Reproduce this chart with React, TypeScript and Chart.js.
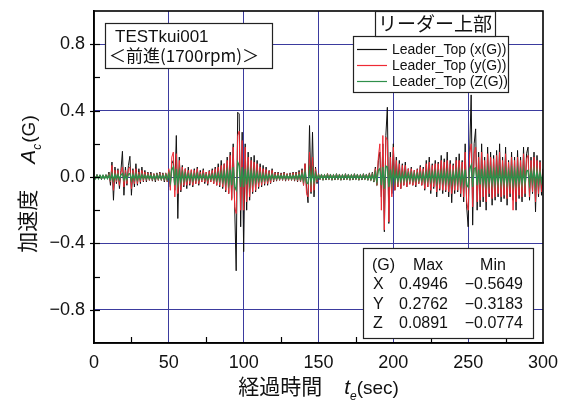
import React, { useEffect, useRef } from "react";
import { Chart, registerables } from "chart.js";

Chart.register(...registerables);

// sample interval of the acceleration record (sec)
const TIME_STEP_SEC = 1;

// Leader_Top x(G) — one value per second, t = 0 … 300
const ACC_X = [
  0.01, -0.012, 0.015, -0.01, 0.012, -0.015, 0.01, -0.012, 0.014, -0.01,
  0.03, -0.05, 0.09, -0.14, 0.06, -0.04, 0.05, -0.07, 0.04, 0.155,
  -0.11, 0.06, -0.05, 0.07, 0.125, -0.11, 0.05, -0.06, 0.08, -0.05,
  0.05, -0.04, 0.06, -0.03, 0.04, -0.03, 0.03, -0.02, 0.03, -0.025,
  0.02, -0.03, 0.025, -0.02, 0.03, -0.02, 0.025, -0.03, 0.02, -0.03,
  0.04, -0.06, 0.08, 0.1, -0.08, 0.25, -0.25, 0.12, -0.09, 0.07,
  -0.06, 0.05, -0.07, 0.06, -0.05, 0.04, -0.06, 0.05, -0.04, 0.06,
  -0.05, 0.04, -0.03, 0.05, -0.04, 0.03, -0.05, 0.04, -0.03, 0.05,
  -0.04, 0.06, -0.05, 0.08, -0.06, 0.1, -0.07, 0.08, -0.09, 0.12,
  -0.1, 0.15, -0.13, 0.2, -0.18, -0.5649, 0.39, 0.38, -0.3, 0.27,
  -0.45, 0.2, -0.2, 0.15, -0.14, 0.12, -0.1, 0.13, -0.09, 0.1,
  -0.07, 0.08, -0.06, 0.07, -0.05, 0.06, -0.05, 0.04, -0.04, 0.05,
  -0.03, 0.03, -0.025, 0.03, -0.02, 0.025, -0.02, 0.03, -0.025, 0.02,
  -0.02, 0.025, -0.02, 0.03, -0.025, 0.03, -0.03, 0.04, -0.03, 0.05,
  -0.05, 0.08, -0.06, -0.155, 0.31, -0.1, 0.27, -0.12, 0.06, -0.04,
  0.02, -0.015, 0.018, -0.02, 0.015, -0.018, 0.02, -0.015, 0.018, -0.02,
  0.015, -0.018, 0.02, -0.015, 0.018, -0.02, 0.015, -0.018, 0.02, -0.015,
  0.018, -0.02, 0.015, -0.018, 0.02, -0.015, 0.018, -0.02, 0.015, -0.018,
  0.02, -0.015, 0.018, -0.02, 0.025, -0.02, 0.03, -0.03, 0.06, -0.05,
  0.1, 0.15, -0.12, 0.2, -0.33, 0.25, 0.42, -0.28, 0.15, -0.1,
  0.2, -0.08, 0.12, -0.06, 0.1, -0.07, 0.08, -0.05, 0.09, -0.06,
  0.05, -0.04, 0.06, -0.05, 0.04, -0.06, 0.05, -0.04, 0.07, -0.05,
  0.06, -0.08, 0.1, -0.06, 0.12, -0.1, 0.08, -0.07, 0.1, -0.12,
  0.09, -0.08, 0.13, -0.1, 0.11, -0.09, 0.15, -0.12, 0.1, -0.155,
  0.08, -0.1, 0.12, -0.09, 0.14, -0.12, 0.1, -0.15, 0.2, -0.18,
  -0.3, 0.15, 0.4946, -0.29, 0.2, 0.29, -0.2, 0.15, -0.18, 0.2,
  -0.15, 0.12, -0.2, 0.18, -0.12, 0.15, -0.17, 0.13, -0.14, 0.16,
  -0.12, 0.2, -0.15, 0.12, -0.13, 0.18, -0.17, 0.1, -0.12, 0.15,
  -0.14, 0.12, -0.2, 0.16, -0.13, 0.12, -0.15, 0.18, -0.12, 0.14,
  0.18, -0.14, 0.12, -0.1, 0.15, -0.21, 0.13, -0.12, 0.1, -0.11,
  0.05,
];

// Leader_Top y(G)
const ACC_Y = [
  0.01, -0.01, 0.012, -0.01, 0.01, -0.012, 0.01, -0.01, 0.012, -0.01,
  0.02, -0.03, 0.07, -0.08, 0.04, -0.03, 0.04, -0.05, 0.03, 0.06,
  -0.06, 0.04, -0.04, 0.05, 0.06, -0.07, 0.04, -0.04, 0.05, -0.04,
  0.03, -0.03, 0.04, -0.025, 0.03, -0.02, 0.025, -0.02, 0.02, -0.02,
  0.02, -0.02, 0.02, -0.02, 0.025, -0.02, 0.02, -0.02, 0.025, -0.03,
  0.05, -0.08, 0.12, 0.15, -0.12, 0.14, -0.1, 0.1, -0.08, 0.06,
  -0.05, 0.05, -0.05, 0.04, -0.04, 0.045, -0.05, 0.04, -0.04, 0.05,
  -0.04, 0.03, -0.03, 0.04, -0.03, 0.03, -0.04, 0.035, -0.03, 0.04,
  -0.04, 0.05, -0.05, 0.06, -0.05, 0.07, -0.06, 0.08, -0.08, 0.1,
  -0.1, 0.13, -0.14, 0.18, -0.18, -0.22, 0.25, 0.2762, -0.2, 0.22,
  -0.2, 0.18, -0.15, 0.12, -0.12, 0.1, -0.09, 0.09, -0.08, 0.08,
  -0.06, 0.06, -0.05, 0.05, -0.04, 0.045, -0.04, 0.035, -0.035, 0.04,
  -0.025, 0.025, -0.02, 0.025, -0.02, 0.02, -0.02, 0.025, -0.02, 0.02,
  -0.02, 0.02, -0.02, 0.025, -0.02, 0.025, -0.025, 0.03, -0.03, 0.04,
  -0.05, 0.08, -0.1, -0.12, 0.15, -0.09, 0.12, -0.08, 0.05, -0.03,
  0.02, -0.015, 0.015, -0.018, 0.015, -0.015, 0.02, -0.015, 0.015, -0.018,
  0.015, -0.015, 0.018, -0.015, 0.015, -0.018, 0.015, -0.015, 0.018, -0.015,
  0.015, -0.018, 0.015, -0.015, 0.018, -0.015, 0.015, -0.018, 0.015, -0.015,
  0.018, -0.015, 0.015, -0.018, 0.02, -0.02, 0.025, -0.025, 0.05, -0.05,
  0.12, 0.2, -0.2, 0.25, -0.3183, 0.24, 0.22, -0.27, 0.12, -0.12,
  0.18, -0.08, 0.1, -0.06, 0.08, -0.07, 0.07, -0.05, 0.07, -0.06,
  0.05, -0.045, 0.05, -0.05, 0.04, -0.05, 0.045, -0.04, 0.06, -0.05,
  0.05, -0.07, 0.08, -0.06, 0.09, -0.08, 0.07, -0.06, 0.08, -0.09,
  0.08, -0.07, 0.1, -0.08, 0.09, -0.08, 0.1, -0.09, 0.08, -0.1,
  0.07, -0.08, 0.1, -0.08, 0.1, -0.1, 0.09, -0.12, 0.15, -0.15,
  -0.2, 0.14, 0.2, -0.18, 0.14, 0.18, -0.15, 0.12, -0.14, 0.15,
  -0.12, 0.1, -0.15, 0.14, -0.1, 0.12, -0.13, 0.11, -0.12, 0.13,
  -0.1, 0.15, -0.12, 0.1, -0.11, 0.14, -0.13, 0.09, -0.1, 0.12,
  -0.2, 0.1, -0.15, 0.12, -0.11, 0.1, -0.12, 0.14, -0.1, 0.11,
  0.13, -0.12, 0.1, -0.09, 0.12, -0.15, 0.1, -0.1, 0.09, -0.09,
  0.04,
];

// Leader_Top Z(G)
const ACC_Z = [
  0.01, -0.01, 0.008, -0.01, 0.01, -0.008, 0.01, -0.01, 0.008, -0.01,
  0.012, -0.015, 0.02, -0.02, 0.015, -0.012, 0.015, -0.015, 0.012, 0.02,
  -0.018, 0.015, -0.015, 0.018, 0.02, -0.02, 0.015, -0.015, 0.018, -0.015,
  0.012, -0.012, 0.015, -0.01, 0.012, -0.01, 0.012, -0.01, 0.01, -0.012,
  0.01, -0.012, 0.012, -0.01, 0.012, -0.012, 0.01, -0.012, 0.015, -0.015,
  0.02, -0.03, 0.045, 0.06, -0.05, 0.05, -0.04, 0.035, -0.03, 0.025,
  -0.02, 0.02, -0.018, 0.015, -0.015, 0.018, -0.02, 0.015, -0.015, 0.018,
  -0.015, 0.012, -0.012, 0.015, -0.012, 0.012, -0.015, 0.012, -0.012, 0.015,
  -0.015, 0.018, -0.018, 0.02, -0.02, 0.025, -0.025, 0.03, -0.03, 0.035,
  -0.04, 0.045, -0.05, 0.06, -0.06, -0.0774, 0.0891, 0.07, -0.06, 0.06,
  -0.06, 0.05, -0.045, 0.04, -0.04, 0.035, -0.03, 0.03, -0.025, 0.025,
  -0.02, 0.02, -0.02, 0.018, -0.018, 0.015, -0.015, 0.015, -0.012, 0.015,
  -0.012, 0.01, -0.01, 0.012, -0.01, 0.01, -0.01, 0.012, -0.01, 0.01,
  -0.01, 0.01, -0.012, 0.01, -0.01, 0.012, -0.012, 0.015, -0.015, 0.02,
  -0.02, 0.03, -0.035, -0.04, 0.045, -0.035, 0.04, -0.03, 0.02, -0.015,
  0.01, -0.01, 0.01, -0.012, 0.01, -0.01, 0.012, -0.01, 0.01, -0.012,
  0.01, -0.01, 0.012, -0.01, 0.01, -0.012, 0.01, -0.01, 0.012, -0.01,
  0.01, -0.012, 0.01, -0.01, 0.012, -0.01, 0.01, -0.012, 0.01, -0.01,
  0.012, -0.01, 0.01, -0.012, 0.012, -0.015, 0.015, -0.018, 0.025, -0.03,
  0.04, 0.05, -0.05, 0.06, -0.07, 0.065, 0.06, -0.06, 0.045, -0.04,
  0.04, -0.03, 0.03, -0.025, 0.025, -0.025, 0.02, -0.02, 0.025, -0.02,
  0.02, -0.018, 0.02, -0.02, 0.018, -0.02, 0.018, -0.018, 0.02, -0.02,
  0.02, -0.025, 0.025, -0.02, 0.03, -0.025, 0.025, -0.02, 0.03, -0.03,
  0.025, -0.025, 0.03, -0.025, 0.03, -0.03, 0.03, -0.03, 0.025, -0.035,
  0.025, -0.03, 0.035, -0.03, 0.035, -0.035, 0.03, -0.04, 0.045, -0.05,
  -0.06, 0.05, 0.07, -0.06, 0.05, 0.055, -0.05, 0.045, -0.045, 0.05,
  -0.04, 0.035, -0.045, 0.045, -0.035, 0.04, -0.04, 0.035, -0.04, 0.04,
  -0.035, 0.045, -0.04, 0.035, -0.035, 0.04, -0.04, 0.03, -0.035, 0.04,
  -0.045, 0.035, -0.04, 0.04, -0.035, 0.035, -0.04, 0.04, -0.035, 0.035,
  0.04, -0.04, 0.035, -0.03, 0.04, -0.045, 0.035, -0.035, 0.03, -0.03,
  0.015,
];

const SERIES_LABELS = ["Leader_Top (x(G))", "Leader_Top (y(G))", "Leader_Top (Z(G))"];
const SERIES_COLORS = ["#111111", "#ee2a34", "#2f8f4a"];
const SERIES_WIDTHS = [1, 1, 1.4];

const X_TICKS = [0, 50, 100, 150, 200, 250, 300];
const X_MINOR_TICKS = [25, 75, 125, 175, 225, 275];
const Y_TICKS = [-0.8, -0.4, 0, 0.4, 0.8];
const Y_MINOR_TICKS = [-0.6, -0.2, 0.2, 0.6];

const TEST_NAME = "TESTkui001";
const TEST_CONDITION = "＜前進(1700rpm)＞";
const POSITION_TITLE = "リーダー上部";
const STATS_HEADER = ["(G)", "Max", "Min"];
const STATS_ROWS = [
  ["X", "0.4946", "−0.5649"],
  ["Y", "0.2762", "−0.3183"],
  ["Z", "0.0891", "−0.0774"],
];

const LATIN = "'Liberation Sans', Arial, sans-serif";
const CJK = "'Noto Sans CJK JP', sans-serif";
const GRID_BLUE = "#3b3b9e";

const overlayPlugin = {
  id: "overlay",
  afterDatasetsDraw(chart: any) {
    const { ctx, chartArea: a, scales } = chart;
    const xs = scales.x;
    const ys = scales.y;
    ctx.save();
    ctx.strokeStyle = "#000";
    ctx.lineWidth = 1.2;
    // ticks
    for (const v of Y_MINOR_TICKS) {
      const py = Math.round(ys.getPixelForValue(v)) + 0.5;
      ctx.beginPath(); ctx.moveTo(a.left, py); ctx.lineTo(a.left + 6, py); ctx.stroke();
    }
    for (const v of Y_TICKS) {
      const py = Math.round(ys.getPixelForValue(v)) + 0.5;
      ctx.beginPath(); ctx.moveTo(a.left - 4, py); ctx.lineTo(a.left + 6, py); ctx.stroke();
    }
    for (const v of X_MINOR_TICKS) {
      const px = Math.round(xs.getPixelForValue(v)) + 0.5;
      ctx.beginPath(); ctx.moveTo(px, a.bottom); ctx.lineTo(px, a.bottom - 6); ctx.stroke();
    }
    // frame
    ctx.lineWidth = 1.6;
    ctx.strokeRect(a.left, a.top, a.right - a.left, a.bottom - a.top);

    const box = (x: number, y: number, w: number, h: number) => {
      ctx.fillStyle = "#fff";
      ctx.fillRect(x, y, w, h);
      ctx.lineWidth = 1.2;
      ctx.strokeStyle = "#222";
      ctx.strokeRect(x + 0.5, y + 0.5, w, h);
    };
    const L = a.left;
    const T = a.top;

    // test name box
    box(L + 11, T + 12, 167, 45);
    ctx.fillStyle = "#111";
    ctx.textBaseline = "alphabetic";
    ctx.textAlign = "left";
    ctx.font = `17px ${LATIN}`;
    ctx.fillText(TEST_NAME, L + 21, T + 31);
    ctx.font = `17px ${CJK}`;
    ctx.fillText(TEST_CONDITION, L + 15, T + 51);

    // legend box
    box(L + 259, T + 25, 155, 56);
    ctx.font = `14px ${LATIN}`;
    ctx.textBaseline = "middle";
    SERIES_LABELS.forEach((lab, i) => {
      const y = T + 38 + i * 16;
      ctx.strokeStyle = SERIES_COLORS[i];
      ctx.lineWidth = 1.2;
      ctx.beginPath(); ctx.moveTo(L + 263, y + 0.5); ctx.lineTo(L + 293, y + 0.5); ctx.stroke();
      ctx.fillStyle = "#111";
      ctx.fillText(lab, L + 298, y + 1);
    });

    // position title box
    box(L + 281, T, 120, 25);
    ctx.fillStyle = "#111";
    ctx.textAlign = "center";
    ctx.font = `19px ${CJK}`;
    ctx.fillText(POSITION_TITLE, L + 341, T + 13);

    // stats box
    box(L + 269, T + 237, 170, 90);
    ctx.font = `16px ${LATIN}`;
    ctx.fillStyle = "#111";
    ctx.textAlign = "left";
    ctx.fillText(STATS_HEADER[0], L + 278, T + 255);
    ctx.textAlign = "center";
    ctx.fillText(STATS_HEADER[1], L + 334, T + 255);
    ctx.fillText(STATS_HEADER[2], L + 399, T + 255);
    STATS_ROWS.forEach((row, i) => {
      const y = T + 274 + i * 19.5;
      ctx.textAlign = "left";
      ctx.fillText(row[0], L + 279, y);
      ctx.textAlign = "right";
      ctx.fillText(row[1], L + 354, y);
      ctx.fillText(row[2], L + 429, y);
    });

    // axis titles
    ctx.textBaseline = "alphabetic";
    ctx.textAlign = "left";
    const drawParts = (parts: any[], cx: number, base: number) => {
      let total = 0;
      for (const p of parts) { ctx.font = p.f; total += ctx.measureText(p.t).width + p.gap; }
      let x = cx - total / 2;
      for (const p of parts) {
        ctx.font = p.f;
        ctx.fillText(p.t, x, base + p.dy);
        x += ctx.measureText(p.t).width + p.gap;
      }
    };
    ctx.fillStyle = "#111";
    const xParts = [
      { t: "経過時間", f: `21px ${CJK}`, dy: 0, gap: 22 },
      { t: "t", f: `italic 21px ${LATIN}`, dy: 0, gap: 0 },
      { t: "e", f: `italic 12px ${LATIN}`, dy: 6, gap: 0 },
      { t: "(sec)", f: `19px ${LATIN}`, dy: 0, gap: 0 },
    ];
    drawParts(xParts, (a.left + a.right) / 2, 394);

    ctx.save();
    ctx.translate(35, 184);
    ctx.rotate(-Math.PI / 2);
    const yParts = [
      { t: "加速度", f: `21px ${CJK}`, dy: 0, gap: 26 },
      { t: "A", f: `italic 21px ${LATIN}`, dy: 0, gap: 0 },
      { t: "c", f: `italic 12px ${LATIN}`, dy: 6, gap: 1 },
      { t: "(G)", f: `19px ${LATIN}`, dy: 0, gap: 0 },
    ];
    drawParts(yParts, 0, 0);
    ctx.restore();

    ctx.restore();
  },
};

export default function App() {
  const canvasRef = useRef<HTMLCanvasElement | null>(null);

  useEffect(() => {
    const canvas = canvasRef.current;
    if (!canvas) return;
    const toPoints = (arr: number[]) => arr.map((v, i) => ({ x: i * TIME_STEP_SEC, y: v }));
    const seriesData = [ACC_X, ACC_Y, ACC_Z];
    const chart = new Chart(canvas, {
      type: "line",
      data: {
        datasets: seriesData.map((arr, i) => ({
          label: SERIES_LABELS[i],
          data: toPoints(arr),
          borderColor: SERIES_COLORS[i],
          backgroundColor: SERIES_COLORS[i],
          borderWidth: SERIES_WIDTHS[i],
          pointRadius: 0,
          tension: 0,
          fill: false,
          order: 3 - i,
        })),
      },
      options: {
        animation: false,
        responsive: true,
        maintainAspectRatio: false,
        layout: { padding: { top: 11, right: 20, left: 0, bottom: 0 } },
        plugins: { legend: { display: false }, tooltip: { enabled: false }, title: { display: false } },
        scales: {
          x: {
            type: "linear",
            min: 0,
            max: 300,
            afterBuildTicks: (s: any) => { s.ticks = X_TICKS.map((v) => ({ value: v })); },
            afterFit: (s: any) => { s.height = 67; s.paddingRight = 0; s.paddingLeft = 0; },
            ticks: {
              autoSkip: false,
              maxRotation: 0,
              padding: 9,
              color: "#111",
              font: { family: LATIN, size: 18 },
              callback: (v: any) => String(v),
            },
            grid: {
              drawTicks: false,
              lineWidth: 1,
              color: (c: any) => (c.tick && (c.tick.value === 0 || c.tick.value === 300) ? "rgba(0,0,0,0)" : GRID_BLUE),
            },
            border: { display: true, color: "#000", width: 1.6 },
          },
          y: {
            type: "linear",
            min: -1,
            max: 1,
            afterBuildTicks: (s: any) => { s.ticks = Y_TICKS.map((v) => ({ value: v })); },
            afterFit: (s: any) => { s.width = 94; s.paddingTop = 0; s.paddingBottom = 0; },
            ticks: {
              autoSkip: false,
              padding: 9,
              color: "#111",
              font: { family: LATIN, size: 18 },
              callback: (v: any) => Number(v).toFixed(1).replace("-", "−"),
            },
            grid: { drawTicks: false, lineWidth: 1, color: GRID_BLUE },
            border: { display: true, color: "#000", width: 1.6 },
          },
        },
      },
      plugins: [overlayPlugin],
    } as any);
    return () => chart.destroy();
  }, []);

  return (
    <div style={{ position: "fixed", left: 0, top: 0, width: 563, height: 410, background: "#fff" }}>
      <canvas ref={canvasRef} />
    </div>
  );
}
